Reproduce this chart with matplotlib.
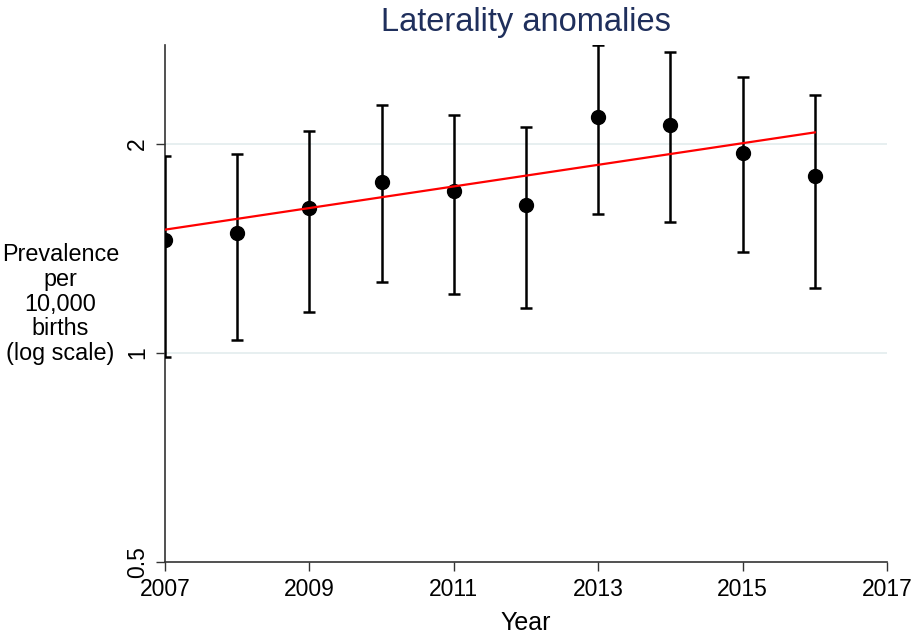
import numpy as np
import matplotlib
matplotlib.use("Agg")
import matplotlib.pyplot as plt
from matplotlib.ticker import FixedLocator, NullLocator

plt.rcParams['font.family'] = ['Liberation Sans', 'DejaVu Sans']

# data
years = [2007, 2008, 2009, 2010, 2011, 2012, 2013, 2014, 2015, 2016]
prev = [1.455, 1.489, 1.618, 1.763, 1.711, 1.634, 2.180, 2.123, 1.941, 1.799]
ci_low = [0.987, 1.044, 1.146, 1.266, 1.216, 1.161, 1.586, 1.544, 1.398, 1.241]
ci_high = [1.916, 1.935, 2.088, 2.269, 2.195, 2.109, 2.768, 2.704, 2.489, 2.345]
fit_years = [2007, 2016]
fit_vals = [1.504, 2.075]
yticks = [0.5, 1, 2]
xticks = [2007, 2009, 2011, 2013, 2015, 2017]

prev = np.array(prev)
err = np.vstack([prev - np.array(ci_low), np.array(ci_high) - prev])

fig = plt.figure(figsize=(9.13, 6.35), dpi=100)
ax = fig.add_axes([0.1807, 0.1142, 0.7908, 0.8148])

for t in [1, 2]:
    ax.axhline(t, color='#e3ecee', lw=1.2, zorder=0)

ax.errorbar(years, prev, yerr=err, fmt='o', color='black', ms=10,
            elinewidth=1.8, capsize=4.5, capthick=1.8, zorder=3)
ax.plot(fit_years, fit_vals, color='#ff0000', lw=1.6, zorder=4)

ax.set_yscale('log')
ax.set_ylim(0.5, 2.77)
ax.set_xlim(2007, 2017)
ax.yaxis.set_major_locator(FixedLocator(yticks))
ax.yaxis.set_minor_locator(NullLocator())
ax.set_yticklabels(['0.5', '1', '2'], rotation=90, va='center', fontsize=16.5)
ax.set_xticks(xticks)
ax.set_xticklabels([str(x) for x in xticks], fontsize=16.5)
ax.tick_params(length=6.5, width=1, color='#333333', pad=5)

for s in ['top', 'right']:
    ax.spines[s].set_visible(False)
for s in ['left', 'bottom']:
    ax.spines[s].set_linewidth(1.2)
    ax.spines[s].set_color('#333333')

ax.set_xlabel('Year', fontsize=18, labelpad=7)
fig.text(0.066, 0.521, 'Prevalence\nper\n10,000\nbirths\n(log scale)',
         ha='center', va='center', fontsize=16.8, linespacing=1.1)
fig.suptitle('Laterality anomalies', x=0.576, y=0.989, fontsize=23.5,
             color='#1f2f5c')

fig.savefig('out.png', dpi=100)
